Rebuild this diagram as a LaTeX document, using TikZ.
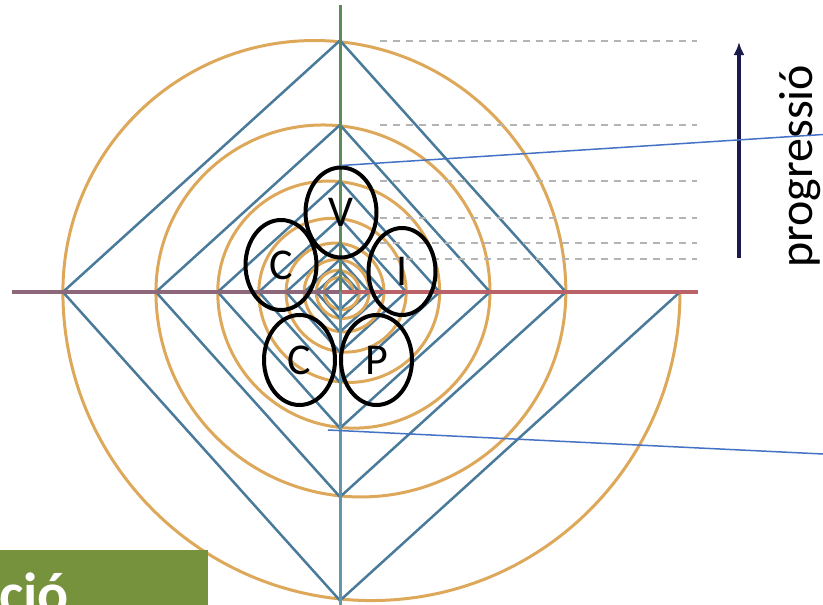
\documentclass[tikz,border=0pt]{standalone}
\usepackage{fontspec}
\setmainfont{Carlito}
\usetikzlibrary{shapes.geometric, arrows.meta}

\definecolor{spiralorange}{RGB}{221,168,90}
\definecolor{squareblue}{RGB}{74,122,154}
\definecolor{axismauve}{RGB}{140,104,122}
\definecolor{axisred}{RGB}{186,98,104}
\definecolor{axisgreen}{RGB}{92,138,88}
\definecolor{axisteal}{RGB}{100,150,170}
\definecolor{dashgrey}{RGB}{180,180,180}
\definecolor{arrownavy}{RGB}{27,27,75}
\definecolor{linkblue}{RGB}{68,114,196}
\definecolor{titlegreen}{RGB}{119,146,60}

\tikzset{
    spiral/.style={spiralorange, line width=3pt},
    square/.style={squareblue, line width=2.5pt},
    dashline/.style={dashgrey, line width=2pt, dash pattern=on 7pt off 6pt},
    value/.style={ellipse, draw=black, line width=4pt, minimum width=71pt, minimum height=90pt, inner sep=0pt, font=\fontsize{44}{44}\selectfont},
    link/.style={linkblue, line width=1.5pt}
}

\begin{document}
\begin{tikzpicture}[x=1pt, y=-1pt]
    \useasboundingbox (0,0) rectangle (823,605);
    \clip (0,0) rectangle (823,605);
    % Define dimensions
    \def\rat{0.815}
    \def\cx{340}
    \def\cy{292}
    % Spiral of half circles and the square zigzag
    \foreach \k in {0,...,15}
    {
        \pgfmathsetmacro\sgn{1-2*mod(\k,2)}
        \pgfmathsetmacro\rad{308.55*\rat^\k}
        \pgfmathsetmacro\xs{\cx+\sgn*340*\rat^\k}
        \pgfmathsetmacro\xe{\cx-\sgn*340*\rat^(\k+1)}
        \pgfmathsetmacro\sa{180*mod(\k,2)}
        \draw[spiral] (\xs,\cy) arc[start angle=\sa, delta angle=180, radius=\rad];
        \draw[square] (\xs,\cy) -- (\cx,\cy+\sgn*\rad) -- (\xe,\cy);
    }
    % Axes
    \draw[axismauve, line width=4pt] (12,\cy) -- (\cx,\cy);
    \draw[axisred, line width=4pt] (\cx,\cy) -- (698,\cy);
    \draw[axisgreen, line width=3pt] (\cx,5) -- (\cx,\cy);
    \draw[axisteal, line width=3pt] (\cx,\cy) -- (\cx,605);
    % Levels at the top of each upper half circle
    \foreach \k in {1,3,...,11}
    {
        \pgfmathsetmacro\yl{\cy-308.55*\rat^\k}
        \draw[dashline] (380,\yl) -- (697,\yl);
    }
    % Progression arrow
    \coordinate (arrowbase) at (739,258);
    \coordinate (arrowtip) at (739,42);
    \draw[arrownavy, line width=4pt, -{Latex[length=13pt, width=11pt]}] (arrowbase) -- (arrowtip);
    \node[rotate=90, anchor=base west, inner sep=0pt, font=\fontsize{48}{48}\selectfont] (prog) at (812,268) {progressió};
    % Values
    \node[value] (v) at (341,212.5) {V};
    \node[value] (c1) at (281,265) {C};
    \node[value, minimum width=67pt, minimum height=87pt] (i) at (402,271.5) {I};
    \node[value] (c2) at (299.5,360) {C};
    \node[value] (p) at (376.5,360) {P};
    % Callout lines
    \coordinate (upend) at (823,134.5);
    \coordinate (lowstart) at (328,430);
    \coordinate (lowend) at (823,454);
    \draw[link] (v.north) -- (upend);
    \draw[link] (lowstart) -- (lowend);
    % Title box
    \node[fill=titlegreen, anchor=north west, minimum width=208pt, minimum height=55pt, inner sep=0pt] (titlebox) at (0,550) {};
    \node[anchor=base west, inner sep=0pt, text=white, font=\fontsize{58}{58}\selectfont\bfseries] (title) at (-1,613) {ció};
\end{tikzpicture}
\end{document}
